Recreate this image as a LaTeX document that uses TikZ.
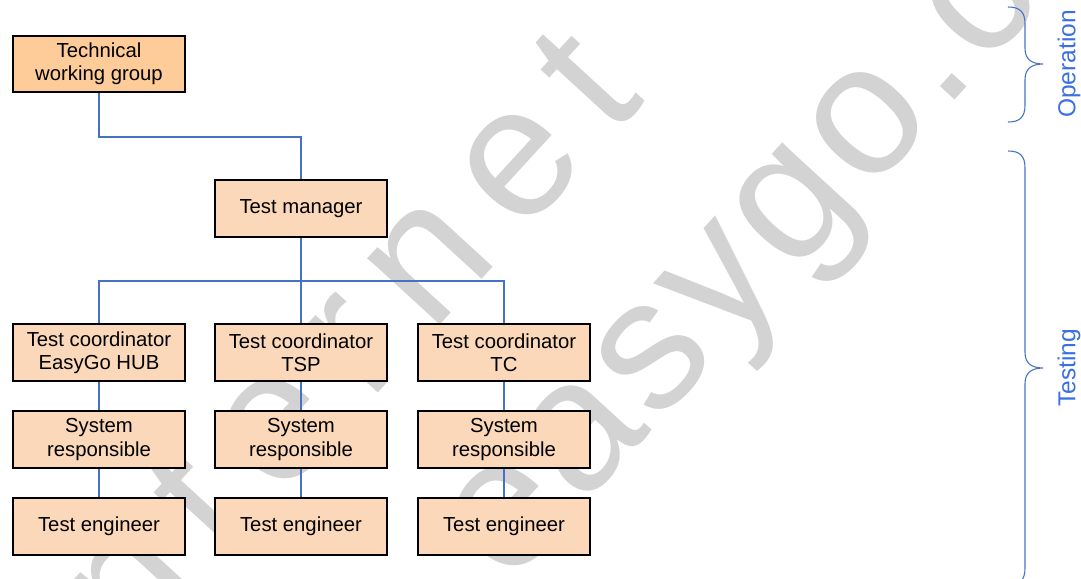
\documentclass[tikz,border=0pt]{standalone}
\usepackage{fontspec}
\setmainfont{Liberation Sans}
\newfontfamily\wmfontA[LetterSpace=16.1]{Liberation Sans}
\newfontfamily\wmfontB[LetterSpace=4]{Liberation Sans}
\definecolor{peach}{RGB}{251,216,185}
\definecolor{orangebox}{RGB}{253,204,153}
\definecolor{linkblue}{RGB}{68,114,196}
\definecolor{braceblue}{RGB}{72,116,196}
\definecolor{labelblue}{RGB}{59,111,228}
\definecolor{wmgray}{RGB}{211,211,211}
\begin{document}
\begin{tikzpicture}[x=1pt,y=-1pt,
  box/.style={draw=black,line width=2.4pt,fill=peach,minimum width=172pt,minimum height=56.5pt,
    inner sep=0pt,align=center,font=\fontsize{20.3}{23.3}\selectfont},
  topbox/.style={box,fill=orangebox},
  link/.style={draw=linkblue,line width=2pt},
  brace/.style={draw=braceblue,line width=1.1pt},
  sidelabel/.style={rotate=90,text=labelblue,inner sep=0pt,font=\fontsize{24.5}{24.5}\selectfont},
  wm/.style={text=wmgray,inner sep=0pt,anchor=base west,rotate=47.5}]
\useasboundingbox (0,0) rectangle (1081,578);
\begin{scope}
\clip (0,0) rectangle (1081,578);
\fill[white] (0,0) rectangle (1081,578);
\node[wm,font=\wmfontA\fontsize{186}{186}\selectfont] (wmone) at (86,712) {internet};
\node[wm,font=\wmfontB\fontsize{186}{186}\selectfont] (wmtwo) at (508,588) {easygo.com};
\end{scope}
% boxes
\node[topbox] (twg) at (99,64) {Technical\\working group};
\node[box] (tm) at (301,208.5) {Test manager};
\node[box] (ca) at (99,352.5) {Test coordinator\\EasyGo HUB};
\node[box] (cb) at (301,352.5) {Test coordinator\\TSP};
\node[box] (cc) at (504,352.5) {Test coordinator\\TC};
\node[box] (sa) at (99,439.5) {System\\responsible};
\node[box] (sb) at (301,439.5) {System\\responsible};
\node[box] (sc) at (504,439.5) {System\\responsible};
\node[box] (ea) at (99,526.5) {Test engineer};
\node[box] (eb) at (301,526.5) {Test engineer};
\node[box] (ec) at (504,526.5) {Test engineer};
% connectors
\coordinate (bus) at (301,281);
\draw[link] (twg.south) -- ++(0,44) -| (tm.north);
\draw[link] (tm.south) -- (bus);
\draw[link] (ca.north) |- (bus) -| (cc.north);
\draw[link] (bus) -- (cb.north);
\draw[link] (ca.south) -- (sa.north);
\draw[link] (cb.south) -- (sb.north);
\draw[link] (cc.south) -- (sc.north);
\draw[link] (sa.south) -- (ea.north);
\draw[link] (sb.south) -- (eb.north);
\draw[link] (sc.south) -- (ec.north);
% braces
\draw[brace] (1008,7) .. controls (1020,7) and (1025,12) .. (1025,24) -- (1025,48)
  .. controls (1025,58) and (1030,64) .. (1043,64)
  .. controls (1030,64) and (1025,70) .. (1025,80) -- (1025,105)
  .. controls (1025,117) and (1020,122) .. (1008,122);
\draw[brace] (1008,151) .. controls (1020,151) and (1025,156) .. (1025,168) -- (1025,352)
  .. controls (1025,362) and (1030,368) .. (1043,368)
  .. controls (1030,368) and (1025,374) .. (1025,384) -- (1025,568)
  .. controls (1025,580) and (1020,585) .. (1008,585);
\node[sidelabel] (oplabel) at (1069,64) {Operation};
\node[sidelabel] (testlabel) at (1069,368) {Testing};
\end{tikzpicture}
\end{document}
